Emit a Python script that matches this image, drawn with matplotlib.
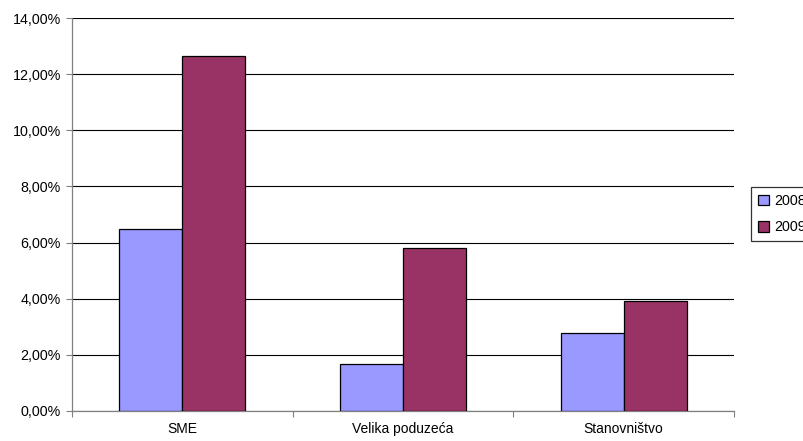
import matplotlib.pyplot as plt
import numpy as np

plt.rcParams['font.family'] = ['Liberation Sans', 'DejaVu Sans']

# Udjeli po segmentima (%)
categories = ['SME', 'Velika poduzeća', 'Stanovništvo']
y2008 = [6.50, 1.67, 2.79]
y2009 = [12.65, 5.80, 3.91]
years = ['2008', '2009']

fig = plt.figure(figsize=(8.04, 4.41), dpi=100)
ax = fig.add_axes([72 / 804, 1 - 411 / 441, 662 / 804, 393 / 441])

x = np.arange(len(categories))
w = 1 / 3.5
ax.bar(x - w / 2, y2008, w, color='#9999FF', edgecolor='black', linewidth=0.9,
       label=years[0], zorder=3)
ax.bar(x + w / 2, y2009, w, color='#993366', edgecolor='black', linewidth=0.9,
       label=years[1], zorder=3)

ax.set_xlim(-0.5, len(categories) - 0.5)
ax.set_ylim(0, 14)
ax.set_yticks(np.arange(0, 15, 2))
ax.set_yticklabels([f'{v:.2f}%'.replace('.', ',') for v in np.arange(0, 15, 2)])
ax.yaxis.grid(True, color='black', linewidth=0.8, zorder=0)

# kategorije ispod, crtice na granicama
ax.set_xticks(np.arange(-0.5, len(categories), 1))
ax.set_xticklabels([])
ax.set_xticks(x, minor=True)
ax.set_xticklabels(categories, minor=True)
ax.tick_params(axis='x', which='minor', length=0, pad=8, labelsize=10)
ax.tick_params(axis='x', which='major', length=4, color='#808080')
ax.tick_params(axis='y', length=4, color='#808080', pad=4, labelsize=10.3)

for s in ['top', 'right']:
    ax.spines[s].set_visible(False)
for s in ['left', 'bottom']:
    ax.spines[s].set_color('#808080')
    ax.spines[s].set_linewidth(0.9)

leg = fig.legend(loc='upper left', bbox_to_anchor=(751 / 804, 1 - 187 / 441),
                 fontsize=10.3, frameon=True, fancybox=False, edgecolor='black',
                 handlelength=0.75, handleheight=0.75, handletextpad=0.4,
                 borderpad=0.5, labelspacing=0.85, borderaxespad=0)
leg.get_frame().set_linewidth(0.9)

fig.savefig('out.png', dpi=100)
